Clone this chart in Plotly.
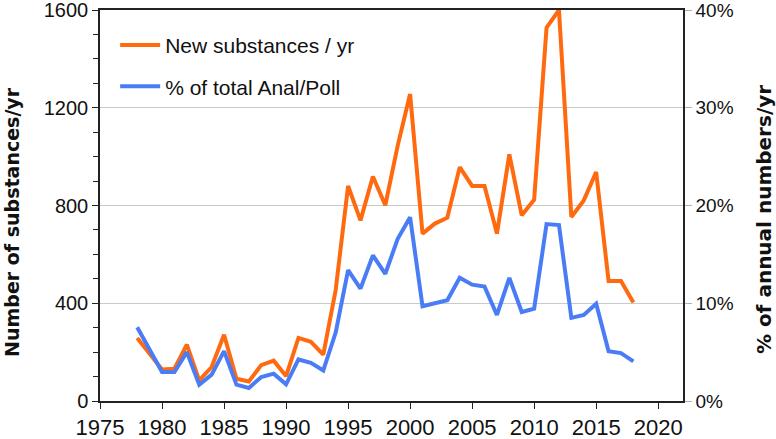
import plotly.graph_objects as go

years = list(range(1978, 2019))
new_substances = [258, 193, 129, 132, 231, 84, 139, 271, 91, 80, 147, 165, 102, 258, 242, 190, 454,
                  880, 739, 919, 801, 1045, 1256, 685, 726, 750, 957, 880, 880, 685, 1009, 760, 824,
                  1528, 1600, 753, 821, 937, 491, 491, 403]
pct_anal_poll = [7.55, 5.25, 2.96, 2.96, 5.0, 1.67, 2.7, 5.1, 1.67, 1.33, 2.45, 2.8, 1.7, 4.25, 3.9, 3.13, 7.0,
                 13.4, 11.5, 14.9, 13.0, 16.6, 18.8, 9.7, 9.95, 10.3, 12.6, 11.9, 11.7, 8.8, 12.6, 9.1, 9.45,
                 18.1, 18.0, 8.5, 8.8, 9.95, 5.1, 4.9, 4.06]

x_ticks = list(range(1975, 2021, 5))
y_ticks = [0, 400, 800, 1200, 1600]
y2_ticks = [0, 10, 20, 30, 40]
y2_labels = ["0%", "10%", "20%", "30%", "40%"]
left_title = "Number of substances/yr"
right_title = "% of annual numbers/yr"

ORANGE = "#FF6A10"
BLUE = "#4A7DF5"
FONT = "Liberation Sans, Arial, sans-serif"

fig = go.Figure()
fig.add_trace(go.Scatter(x=years, y=new_substances, mode="lines", name="New substances / yr",
                         line=dict(color=ORANGE, width=4), legendgroup="a"))
fig.add_trace(go.Scatter(x=years, y=pct_anal_poll, mode="lines", name="% of total Anal/Poll",
                         line=dict(color=BLUE, width=4), yaxis="y2", legendgroup="b"))

fig.update_layout(
    width=776, height=439,
    margin=dict(l=100, r=93, t=10, b=38),
    paper_bgcolor="white", plot_bgcolor="white",
    font=dict(family=FONT, color="#111111"),
    showlegend=True,
    legend=dict(x=0.026, y=0.962, xanchor="left", yanchor="top",
                bgcolor="rgba(0,0,0,0)", font=dict(size=21, family=FONT),
                itemwidth=40, tracegroupgap=11, traceorder="grouped"),
    xaxis=dict(range=[1975, 2022], tickvals=x_ticks, ticks="outside", ticklen=6,
               tickcolor="#222", showline=True, linecolor="#222", linewidth=1.5,
               mirror=True, showgrid=False, zeroline=False, automargin=False,
               ticklabeloverflow="allow",
               tickfont=dict(size=22, family=FONT)),
    yaxis=dict(range=[0, 1600], tickvals=y_ticks, ticks="outside", ticklen=6,
               tickcolor="#222", showline=True, linecolor="#222", linewidth=1.5,
               showgrid=True, gridcolor="#C4CCCC", gridwidth=1.2, zeroline=False,
               automargin=False, ticklabeloverflow="allow",
               minor=dict(dtick=100, ticks="outside", ticklen=5, tickcolor="#222", showgrid=False),
               tickfont=dict(size=20, family=FONT)),
    yaxis2=dict(range=[0, 40], tickvals=y2_ticks, ticktext=y2_labels, overlaying="y", side="right",
                ticks="outside", ticklen=7, tickcolor="#AAB4B4",
                showline=True, linecolor="#222", linewidth=1.5,
                showgrid=False, zeroline=False, automargin=False, ticklabeloverflow="allow",
                tickfont=dict(size=19, family=FONT)),
    annotations=[
        dict(text=f"<b>{left_title}</b>", x=-0.151, y=0.458, xref="paper", yref="paper",
             textangle=-90, xanchor="center", yanchor="middle", showarrow=False,
             font=dict(size=19, family="DejaVu Sans", color="#111111")),
        dict(text=f"<b>{right_title}</b>", x=1.139, y=0.463, xref="paper", yref="paper",
             textangle=-90, xanchor="center", yanchor="middle", showarrow=False,
             font=dict(size=20, family="DejaVu Sans", color="#111111")),
    ],
)

fig.write_html("out.html", config={"displayModeBar": False},
               post_script="document.body.style.margin='0';")
